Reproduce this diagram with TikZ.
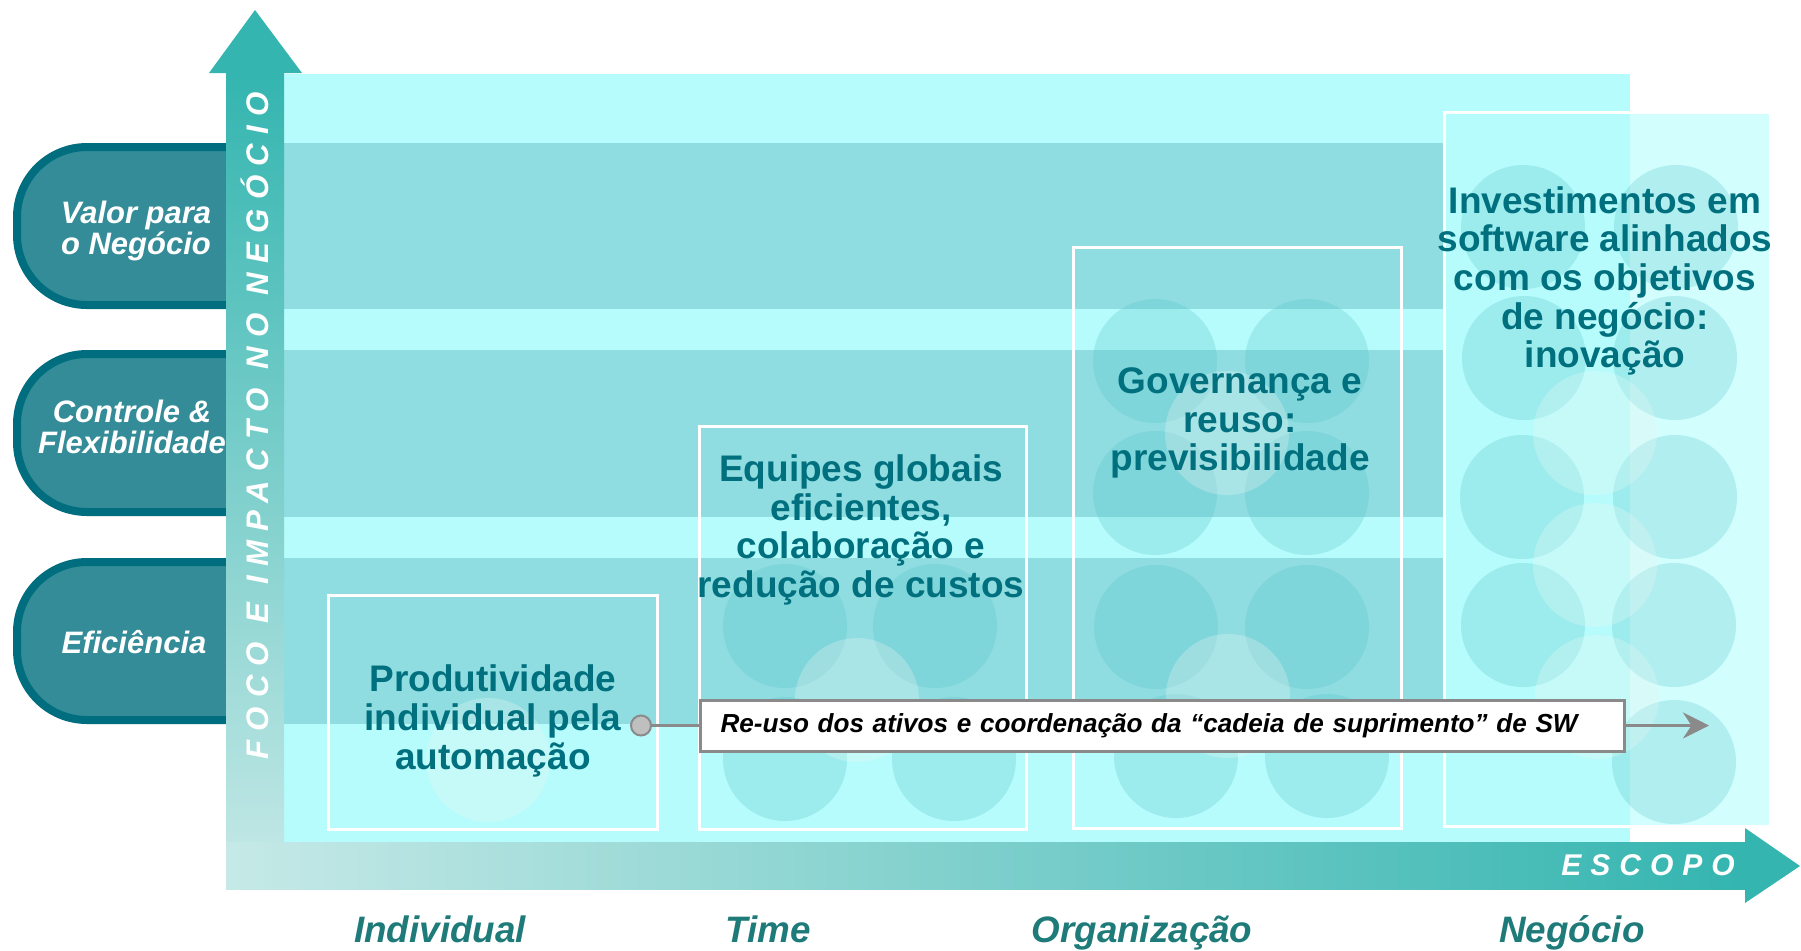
\documentclass[tikz,border=0pt]{standalone}
\usepackage{fontspec}
\setmainfont{Liberation Sans}
\newfontfamily\espacada[LetterSpace=30]{Liberation Sans}
\usepackage{xcolor}
\usepackage{tikz}
\usetikzlibrary{arrows.meta,shapes,calc}

\definecolor{painel}{HTML}{B6FCFC}
\definecolor{faixa}{HTML}{8FDDE1}
\definecolor{claro}{HTML}{D2FEFE}
\definecolor{eixo}{HTML}{34B5B0}
\definecolor{eixoclaro}{HTML}{C6E9E7}
\definecolor{pilula}{HTML}{338C97}
\definecolor{borda}{HTML}{006E7E}
\definecolor{azul}{HTML}{00707E}
\definecolor{verde}{HTML}{1E7B79}
\definecolor{cinza}{HTML}{8A8A8A}
\definecolor{bola}{HTML}{4FBFC8}
\definecolor{bolaclara}{HTML}{E8F6F4}

\begin{document}
\begin{tikzpicture}[x = .5pt, y = -.5pt,
    pill/.style = {draw = borda, line width = 4pt, fill = pilula, rounded corners = 35pt},
    caixa/.style = {draw = white, line width = 1.5pt},
    texto/.style = {align = center, inner sep = 0pt, text = azul,
      font = \fontsize{18.5}{19.3}\selectfont\bfseries},
    nivel/.style = {align = center, inner sep = 0pt, text = white,
      font = \fontsize{15.5}{15.8}\selectfont\bfseries\itshape},
    rotulo/.style = {anchor = base, inner sep = 0pt, text = verde,
      font = \fontsize{18.4}{20}\selectfont\bfseries\itshape},
    eixotexto/.style = {inner sep = 0pt, text = white, font = \fontsize{15}{16}\espacada\bfseries\itshape},
    cinzalinha/.style = {draw = cinza, line width = 1.5pt}]
  \useasboundingbox (0,0) rectangle (1801,950);
  \fill[white] (0,0) rectangle (1801,950);

  % painel e faixas
  \fill[painel] (284,74) rectangle (1630,842);
  \fill[claro] (1630,112) rectangle (1770,826);
  \foreach \a/\b in {143/309, 350/517, 558/724}
    \fill[faixa] (284,\a) rectangle (1444,\b);

  % circulos
  \foreach \p in {(785,626), (935,626), (785,759), (954,759),
      (1155,361), (1307,361), (1155,493), (1307,493), (1156,627), (1307,627), (1176,756), (1327,756),
      (1523,227), (1676,227), (1524,358), (1675,358), (1522,497), (1675,497), (1523,625), (1674,625), (1674,762)}
    \fill[bola, opacity = .25] \p circle [radius = 31pt];
  \foreach \p in {(488,760), (857,700), (1227,433), (1228,696), (1595,433), (1595,565), (1597,697)}
    \fill[bolaclara, opacity = .3] \p circle [radius = 31pt];

  % caixas
  \draw[caixa] (328,595) rectangle (657,829);
  \draw[caixa] (699,426) rectangle (1026,829);
  \draw[caixa] (1073,247) rectangle (1401,828);
  \draw[caixa] (1444,112) rectangle (1770,826);

  \node[texto] (prod) at (493,721) {Produtividade\\individual pela\\automação};
  \node[texto] (equipes) at (861,530) {Equipes globais\\eficientes,\\colaboração e\\redução de custos};
  \node[texto] (gov) at (1240,423) {Governança e\\reuso:\\previsibilidade};
  \node[texto] (invest) at (1605,281) {Investimentos em\\software alinhados\\com os objetivos\\de negócio:\\inovação};

  % niveis
  \draw[pill] (275,147) -- (17,147) -- (17,305) -- (275,305);
  \draw[pill] (275,354) -- (17,354) -- (17,512) -- (275,512);
  \draw[pill] (275,562) -- (17,562) -- (17,720) -- (275,720);
  \node[nivel] (valor) at (136,231) {Valor para\\o Negócio};
  \node[nivel] (controle) at (132,427) {Controle \&\\Flexibilidade};
  \node[nivel] (eficiencia) at (134,642) {Eficiência};

  % eixos
  \fill[eixo] (209,73) -- (255,10) -- (302,73) -- cycle;
  \shade[top color = eixo, bottom color = eixoclaro] (226,72) rectangle (284,889);
  \shade[left color = eixoclaro, right color = eixo] (226,842) rectangle (1746,889);
  \fill[eixo] (1745,828) -- (1800,866) -- (1745,903) -- cycle;
  \node[eixotexto, rotate = 90, font = \fontsize{15.6}{16}\espacada\bfseries\itshape] (foco) at (255,426) {FOCO E IMPACTO NO NEGÓCIO};
  \node[eixotexto] (escopo) at (1648,865) {ESCOPO};

  % reuso
  \node[draw = cinza, line width = 1.5pt, fill = white, anchor = west, minimum height = 25.5pt,
    text width = 442pt, inner xsep = 10pt, align = left,
    font = \fontsize{13.05}{14}\selectfont\bfseries\itshape] (reuso) at (699,725.5)
    {Re-uso dos ativos e coordenação da “cadeia de suprimento” de SW};
  \node[circle, draw = cinza, fill = black!25, line width = 1pt, minimum size = 10pt, inner sep = 0pt] (ponto) at (641,725.5) {};
  \coordinate (fim) at (1709,725.5);
  \draw[cinzalinha] (ponto) -- (reuso);
  \draw[cinzalinha, -{Stealth[length = 13pt, width = 13pt]}] (reuso) -- (fim);

  % Labels
  \node[rotulo] (individual) at (440,942) {Individual};
  \node[rotulo] (time) at (768,942) {Time};
  \node[rotulo] (organizacao) at (1142,942) {Organização};
  \node[rotulo] (negocio) at (1572,942) {Negócio};
\end{tikzpicture}
\end{document}
